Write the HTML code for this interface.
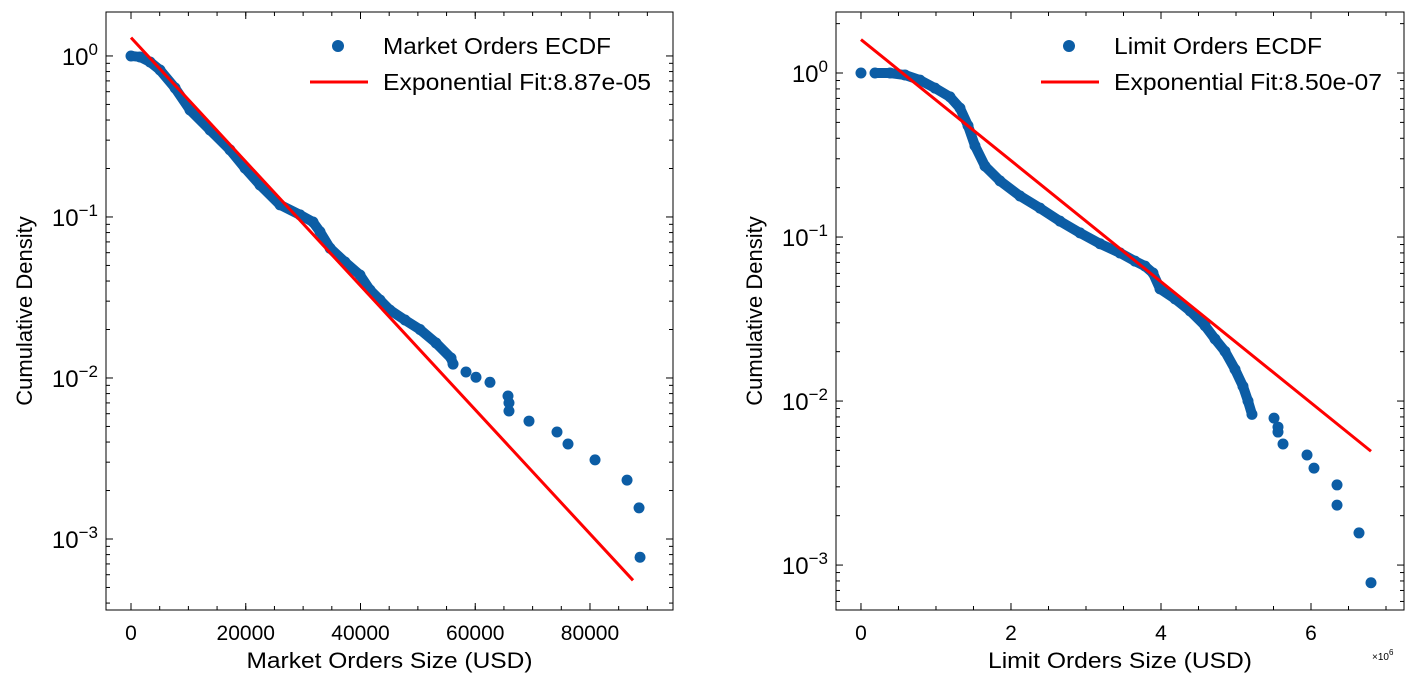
<!DOCTYPE html>
<html><head><meta charset="utf-8"><style>
body{margin:0;background:#fff;}
svg{display:block;font-family:"Liberation Sans",sans-serif;}
</style></head><body>
<svg id="chart" width="1410" height="675" xmlns="http://www.w3.org/2000/svg"></svg>
<script>
// ---- Left panel data (Market orders) ----
const marketX = [0,1570,3310,5050,7670,10280,13770,17250,19870,22480,25970,29460,31720,32940,34690,37300,39910,41660,43400,45140,47760,50370,53160,55780,56130];
const marketY = [1.0,0.986,0.918,0.818,0.633,0.462,0.347,0.261,0.201,0.158,0.119,0.103,0.093,0.081,0.064,0.0525,0.0436,0.0352,0.0305,0.0264,0.0229,0.020,0.0165,0.0133,0.0122];
const marketTailX = [58390,60130,62570,65710,65880,65880,69370,74250,76170,80880,86460,88550,88720];
const marketTailY = [0.0109,0.0101,0.0094,0.00773,0.0070,0.00624,0.0054,0.00462,0.00389,0.00310,0.00232,0.00156,0.00077];
const marketFitA = 1.3, marketFitLambda = 8.87e-5, marketFitRange = [0, 87500];
const marketXTicks = [0,20000,40000,60000,80000];
const marketXTickLabels = ["0","20000","40000","60000","80000"];
// ---- Right panel data (Limit orders, x in units of 1e6) ----
const limitX = [0.187,0.387,0.587,0.787,0.987,1.187,1.32,1.427,1.52,1.653,1.853,2.12,2.387,2.653,2.92,3.187,3.453,3.653,3.787,3.893,3.987,4.187,4.387,4.587,4.72,4.853,4.987,5.093,5.16,5.213];
const limitY = [1.0,1.0,0.972,0.905,0.809,0.715,0.611,0.478,0.360,0.271,0.220,0.178,0.150,0.125,0.106,0.091,0.080,0.0713,0.0665,0.0603,0.0483,0.0420,0.0355,0.0288,0.0239,0.0201,0.0156,0.0123,0.0100,0.0083];
const limitTailX = [0,5.507,5.56,5.56,5.627,5.947,6.04,6.347,6.347,6.64,6.8];
const limitTailY = [1.0,0.00787,0.00694,0.00647,0.00547,0.00469,0.0039,0.00308,0.00232,0.00157,0.00078];
const limitFitA = 1.6, limitFitLambda = 0.85, limitFitRange = [0, 6.8];
const limitXTicks = [0,2,4,6];
const limitXTickLabels = ["0","2","4","6"];
const yDecades = [0,-1,-2,-3];

const NS="http://www.w3.org/2000/svg";
const svg=document.getElementById('chart');
function mk(tag,attrs,parent){const e=document.createElementNS(NS,tag);for(const k in attrs)e.setAttribute(k,attrs[k]);(parent||svg).appendChild(e);return e;}

function panel(o){
  const g=mk('g',{});
  
  
  const X=v=>o.L+(v-o.xmin)/(o.xmax-o.xmin)*(o.R-o.L);
  const Y=v=>o.T+(o.lmax-Math.log10(v))/(o.lmax-o.lmin)*(o.B-o.T);
  const fit=mk('line',{x1:X(o.fitRange[0]),y1:Y(o.fitA*Math.exp(-o.fitL*o.fitRange[0])),x2:X(o.fitRange[1]),y2:Y(o.fitA*Math.exp(-o.fitL*o.fitRange[1])),stroke:'#ff0000','stroke-width':3},g);
  
  
  const pts=o.xs.map((v,i)=>X(v)+','+Y(o.ys[i])).join(' ');
  const band=mk('polyline',{points:pts,fill:'none',stroke:'#0c5da5','stroke-width':10,'stroke-linejoin':'round','stroke-linecap':'round'},g);
  
  
  const all=o.xs.map((v,i)=>[v,o.ys[i]]).concat(o.tx.map((v,i)=>[v,o.ty[i]]));
  all.forEach(p=>{
    const c=mk('circle',{cx:X(p[0]),cy:Y(p[1]),r:5.5,fill:'#0c5da5'},g);
    
    
  });
  g.appendChild(fit);
  const fr=mk('rect',{x:o.L,y:o.T,width:o.R-o.L,height:o.B-o.T,fill:'none',stroke:'#000','stroke-width':1},g);
  
  
  o.xt.forEach((v,i)=>{
    const x=X(v);
    mk('line',{x1:x,y1:o.B,x2:x,y2:o.B-7,stroke:'#000'},g);
    mk('line',{x1:x,y1:o.T,x2:x,y2:o.T+7,stroke:'#000'},g);
    const t=mk('text',{x:x,y:o.B+30,'text-anchor':'middle','font-size':21},g);
    t.textContent=o.xl[i];
    
    
  });
  for(let v=o.xt[0]-o.minor;v<=o.xmax;v+=o.minor){
    if(v<o.xmin)continue;
    const x=X(v);
    mk('line',{x1:x,y1:o.B,x2:x,y2:o.B-4,stroke:'#000'},g);
    mk('line',{x1:x,y1:o.T,x2:x,y2:o.T+4,stroke:'#000'},g);
  }
  yDecades.forEach(d=>{
    const y=Y(Math.pow(10,d));
    mk('line',{x1:o.L,y1:y,x2:o.L+7,y2:y,stroke:'#000'},g);
    mk('line',{x1:o.R,y1:y,x2:o.R-7,y2:y,stroke:'#000'},g);
    const t=mk('text',{x:o.L-8,y:y+9,'text-anchor':'end','font-size':24},g);
    
    
    t.innerHTML='10<tspan dy="-10" font-size="17">'+(d<0?'\u2212'+(-d):d)+'</tspan>';
  });
  for(let d=-4;d<=0;d++)for(let m=2;m<=9;m++){
    const v=m*Math.pow(10,d),l=Math.log10(v);
    if(l>o.lmax||l<o.lmin)continue;
    const y=Y(v);
    mk('line',{x1:o.L,y1:y,x2:o.L+4,y2:y,stroke:'#000'},g);
    mk('line',{x1:o.R,y1:y,x2:o.R-4,y2:y,stroke:'#000'},g);
  }
  const xt=mk('text',{x:(o.L+o.R)/2,y:668,'text-anchor':'middle','font-size':22,textLength:o.xtw,lengthAdjust:'spacingAndGlyphs'},g);
  xt.textContent=o.xtitle;
  
  
  const yt=mk('text',{x:0,y:0,'text-anchor':'middle','font-size':22,transform:`translate(${o.L-74},${(o.T+o.B)/2}) rotate(-90)`},g);
  yt.textContent='Cumulative Density';
  
  
  const lg=mk('g',{},g);
  
  
  mk('circle',{cx:o.legX+28,cy:46,r:6,fill:'#0c5da5'},lg);
  const l1=mk('text',{x:o.legX+73,y:54,'font-size':23,textLength:o.l1w,lengthAdjust:'spacingAndGlyphs'},lg);
  l1.textContent=o.leg1;
  
  
  mk('line',{x1:o.legX,y1:82,x2:o.legX+58,y2:82,stroke:'#ff0000','stroke-width':3},lg);
  const l2=mk('text',{x:o.legX+73,y:90,'font-size':23,textLength:o.l2w,lengthAdjust:'spacingAndGlyphs'},lg);
  l2.textContent=o.leg2;
  
  
}

panel({name:'market-orders-panel',L:106,R:673,T:12,B:610,xmin:-4360,xmax:94470,lmax:0.273,lmin:-3.441,
  xs:marketX,ys:marketY,tx:marketTailX,ty:marketTailY,fitA:marketFitA,fitL:marketFitLambda,fitRange:marketFitRange,
  xt:marketXTicks,xl:marketXTickLabels,minor:5000,xtitle:'Market Orders Size (USD)',xtw:286,legX:310,
  leg1:'Market Orders ECDF',l1w:228,leg2:'Exponential Fit:8.87e-05',l2w:268});
panel({name:'limit-orders-panel',L:836,R:1404,T:12,B:610,xmin:-0.333,xmax:7.24,lmax:0.372,lmin:-3.274,
  xs:limitX,ys:limitY,tx:limitTailX,ty:limitTailY,fitA:limitFitA,fitL:limitFitLambda,fitRange:limitFitRange,
  xt:limitXTicks,xl:limitXTickLabels,minor:0.5,xtitle:'Limit Orders Size (USD)',xtw:264,legX:1041,
  leg1:'Limit Orders ECDF',l1w:208,leg2:'Exponential Fit:8.50e-07',l2w:268});
const sc=mk('text',{x:1372,y:660,'font-size':10});
sc.innerHTML='\u00d710<tspan dy="-5" font-size="8">6</tspan>';


</script>
</body></html>
